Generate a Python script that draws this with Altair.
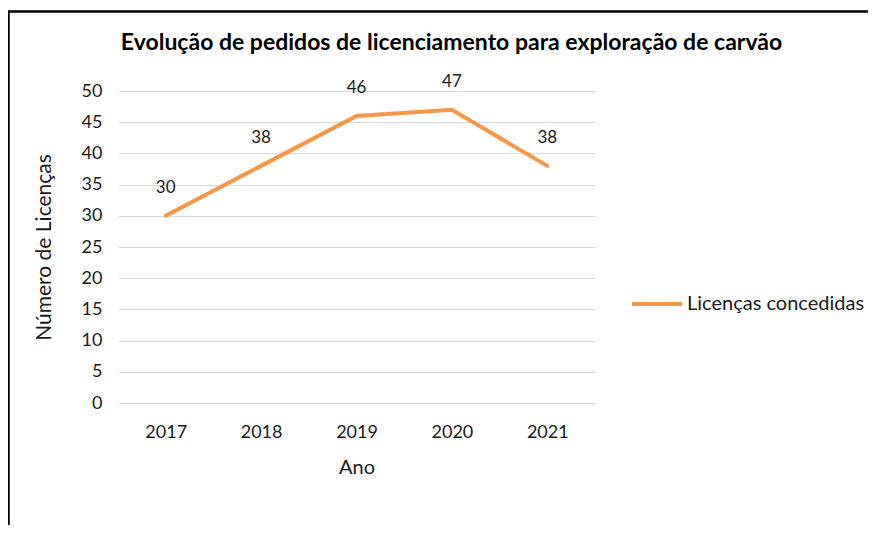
import altair as alt
import pandas as pd

anos = ["2017", "2018", "2019", "2020", "2021"]
licencas = [30, 38, 46, 47, 38]
serie = "Licenças concedidas"
y_ticks = [0, 5, 10, 15, 20, 25, 30, 35, 40, 45, 50]

df = pd.DataFrame({"Ano": anos, "Licencas": licencas, "Serie": [serie] * len(anos)})

FONT = "Lato"
TXT = "#1a1a1a"

base = alt.Chart(df)

x_enc = alt.X(
    "Ano:O",
    title="Ano",
    scale=alt.Scale(type="point", padding=0.5),
    axis=alt.Axis(
        labelAngle=0, domain=False, ticks=False, grid=False,
        labelFont=FONT, labelFontSize=18, labelColor=TXT, labelPadding=20,
        titleFont=FONT, titleFontSize=20, titleFontWeight="normal", titleColor=TXT,
        titlePadding=16,
    ),
)
y_enc = alt.Y(
    "Licencas:Q",
    title="Número de Licenças",
    scale=alt.Scale(domain=[0, 50], nice=False),
    axis=alt.Axis(
        values=y_ticks, domain=False, ticks=False, grid=True, labelOverlap=False,
        gridColor="#d9d9d9", gridWidth=1,
        labelFont=FONT, labelFontSize=18, labelColor=TXT, labelPadding=16,
        titleFont=FONT, titleFontSize=21, titleFontWeight="normal", titleColor=TXT,
        titlePadding=27,
    ),
)

line = base.mark_line(strokeWidth=4, strokeCap="round").encode(
    x=x_enc,
    y=y_enc,
    color=alt.Color(
        "Serie:N",
        scale=alt.Scale(range=["#F79646"]),
        legend=alt.Legend(
            title=None, orient="none", legendX=512, legendY=186,
            symbolType="stroke", symbolSize=2500, symbolStrokeWidth=4,
            labelFont=FONT, labelFontSize=20, labelColor=TXT, labelOffset=3,
            labelLimit=400,
        ),
    ),
)

labels = base.mark_text(dy=-28, font=FONT, fontSize=17, color=TXT).encode(
    x=x_enc, y=y_enc, text="Licencas:Q"
)

border_data = alt.Data(values=[{"k": 1}])
left_border = alt.Chart(border_data).mark_rule(color="black", strokeWidth=2.5).encode(
    x=alt.value(-109.5), y=alt.value(-80), y2=alt.value(460)
)
top_border = alt.Chart(border_data).mark_rule(color="black", strokeWidth=2.5).encode(
    x=alt.value(-110), x2=alt.value(770), y=alt.value(-79.5)
)

chart = alt.layer(line, labels, left_border, top_border).properties(
    width=477,
    height=312,
    autosize=alt.AutoSizeParams(type="none"),
    padding={"left": 110, "top": 83, "right": 273, "bottom": 122},
    title=alt.Title(
        "Evolução de pedidos de licenciamento para exploração de carvão",
        font=FONT, fontSize=23, fontWeight="bold", color="#000",
        anchor="middle", dx=95, offset=0, dy=45, limit=800,
    ),
).configure_view(stroke=None)

chart.save("out.html", embed_options={"renderer": "svg", "actions": False})
